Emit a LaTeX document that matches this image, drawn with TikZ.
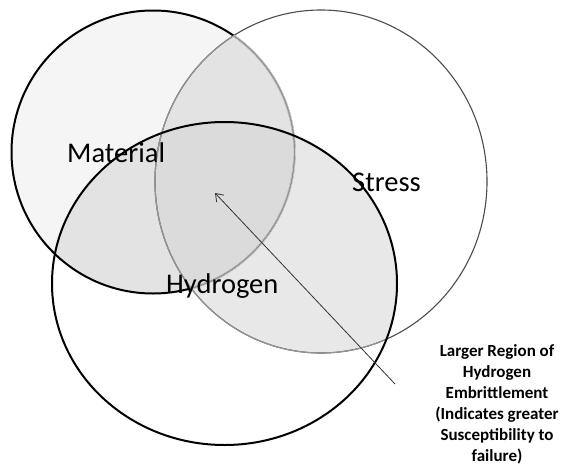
\documentclass[tikz,border=0pt]{standalone}
\usepackage{fontspec}
\setmainfont{Carlito}
\usetikzlibrary{arrows.meta}
\begin{document}
\begin{tikzpicture}[x=1pt,y=-1pt,
  Mpath/.style={insert path={(153,152) circle [radius=141.5]}},
  Spath/.style={insert path={(321,181.5) ellipse [x radius=166, y radius=171.5]}},
  Hpath/.style={insert path={(224.5,283.5) ellipse [x radius=172.5, y radius=161.5]}},
  ring/.style={line width=2pt,draw=black},
  thinring/.style={line width=1.1pt,draw=black!70},
  faded/.style={draw=black!42},
  lbl/.style={font=\fontsize{28.5}{34}\selectfont,anchor=base west,inner sep=0pt},
  note/.style={font=\bfseries\fontsize{17}{21}\selectfont,align=center,inner sep=0pt,anchor=north},
  pointer/.style={draw=black!80,line width=0.8pt,-{Straight Barb[length=7pt,width=10pt]}}
]
\useasboundingbox (0,0) rectangle (567,471);
% shading of regions
\fill[black!4,Mpath];
\begin{scope}\clip[Mpath]; \fill[black!11,Spath]; \end{scope}
\begin{scope}\clip[Mpath]; \fill[black!11,Hpath]; \end{scope}
\begin{scope}\clip[Spath]; \fill[black!9,Hpath]; \end{scope}
\begin{scope}\clip[Mpath]; \clip[Spath]; \fill[black!14,Hpath]; \end{scope}
% outlines
\draw[thinring,Spath];
\draw[ring,Mpath];
\begin{scope}\clip[Spath]; \draw[ring,line width=2.6pt,draw=black!14,Mpath]; \draw[ring,line width=1.4pt,faded,Mpath]; \end{scope}
\begin{scope}\clip[Mpath]; \draw[thinring,faded,Spath]; \end{scope}
\begin{scope}\clip[Hpath]; \draw[thinring,faded,Spath]; \end{scope}
\draw[ring,Hpath];
% labels
\node[lbl] (material) at (67,162) {Material};
\node[lbl] (stress) at (352,191) {Stress};
\node[lbl] (hydrogen) at (166,293) {Hydrogen};
\node[note] (note) at (497,344.5) {Larger Region of\\Hydrogen\\Embrittlement\\(Indicates greater\\Susceptibility to\\failure)};
% pointer
\coordinate (tail) at (395,384);
\coordinate (tip) at (215,193);
\draw[pointer] (tail) -- (tip);
\end{tikzpicture}
\end{document}
